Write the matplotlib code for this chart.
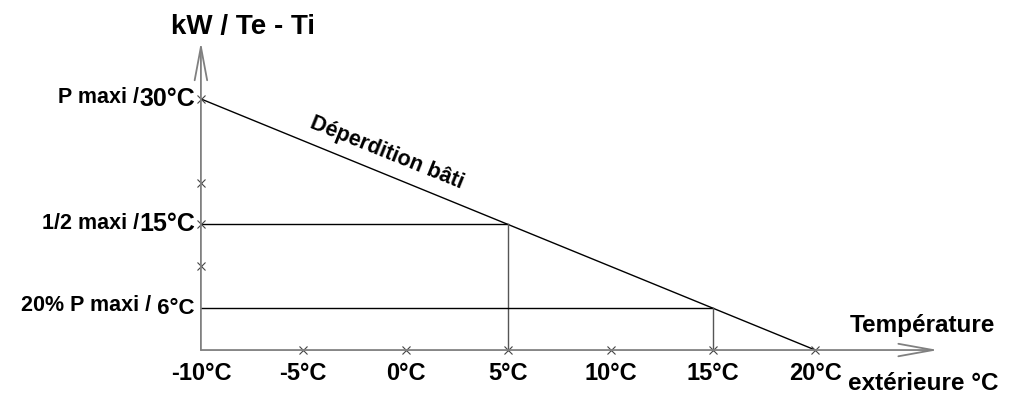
import matplotlib.pyplot as plt

plt.rcParams['font.family'] = ['Liberation Sans', 'DejaVu Sans']

# data
x_ticks = [-10, -5, 0, 5, 10, 15, 20]
x_tick_labels = ['-10°C', '-5°C', '0°C', '5°C', '10°C', '15°C', '20°C']
y_marks = [10, 15, 20, 30]
loss_x = [-10, 20]
loss_y = [30, 0]
# reading points: (outside temp, power)
ref_x = [5, 15]
ref_y = [15, 5]
y_label_prefix = ['P maxi /', '1/2 maxi /', '20% P maxi /']
y_label_value = ['30°C', '15°C', ' 6°C']
y_label_pos = [30, 15, 5]
y_value_size = [18, 18, 16]

axis_col = '#808080'

fig = plt.figure(figsize=(10.24, 4.18), dpi=100)
ax = fig.add_axes([0, 0, 1, 1])
ax.set_xlim(-19.81, 30.19)
ax.set_ylim(-8.12, 41.82)
ax.axis('off')

# axes with open arrow heads
ax.annotate('', xy=(26.0, 0), xytext=(-10, 0),
            arrowprops=dict(arrowstyle='->,head_length=2.5,head_width=0.45',
                            color=axis_col, lw=1.3, mutation_scale=10,
                            shrinkA=0, shrinkB=0))
ax.annotate('', xy=(-10, 36.8), xytext=(-10, 0),
            arrowprops=dict(arrowstyle='->,head_length=2.4,head_width=0.45',
                            color=axis_col, lw=1.3, mutation_scale=10,
                            shrinkA=0, shrinkB=0))

# building heat loss line
ax.plot(loss_x, loss_y, color='black', lw=1)

# reading lines
for px, py in zip(ref_x, ref_y):
    ax.plot([-10, px], [py, py], color='black', lw=1)
    ax.plot([px, px], [0, py], color='#555555', lw=1)

# tick crosses
ax.plot(x_ticks[1:], [0] * (len(x_ticks) - 1), 'x', color='#444444',
        ms=6, mew=0.8)
ax.plot([-10] * len(y_marks), y_marks, 'x', color='#444444', ms=6, mew=0.8)

for xv, lab in zip(x_ticks, x_tick_labels):
    ax.text(xv, -2.75, lab, ha='center', va='center', fontsize=17,
            fontweight='bold')

# y labels, prefix smaller than the value
for yv, pre, val, fs in zip(y_label_pos, y_label_prefix, y_label_value,
                            y_value_size):
    t = ax.text(-10.3, yv, val, ha='right', va='center', fontsize=fs,
                fontweight='bold')
    ax.annotate(pre, xy=(0, 0.12), xycoords=t, ha='right', va='bottom',
                fontsize=15.5, fontweight='bold')

ax.text(-7.95, 38.6, 'kW / Te - Ti', ha='center', va='center', fontsize=20,
        fontweight='bold')
ax.text(25.25, 2.9, 'Température', ha='center', va='center', fontsize=17.5,
        fontweight='bold')
ax.text(25.25, -4.0, 'extérieure °C', ha='center', va='center',
        fontsize=17.5, fontweight='bold')

ax.text(-0.9, 23.6, 'Déperdition bâti', ha='center', va='center',
        rotation=-22, rotation_mode='anchor', fontsize=15.5,
        fontweight='bold')

fig.savefig('out.png', dpi=100)
